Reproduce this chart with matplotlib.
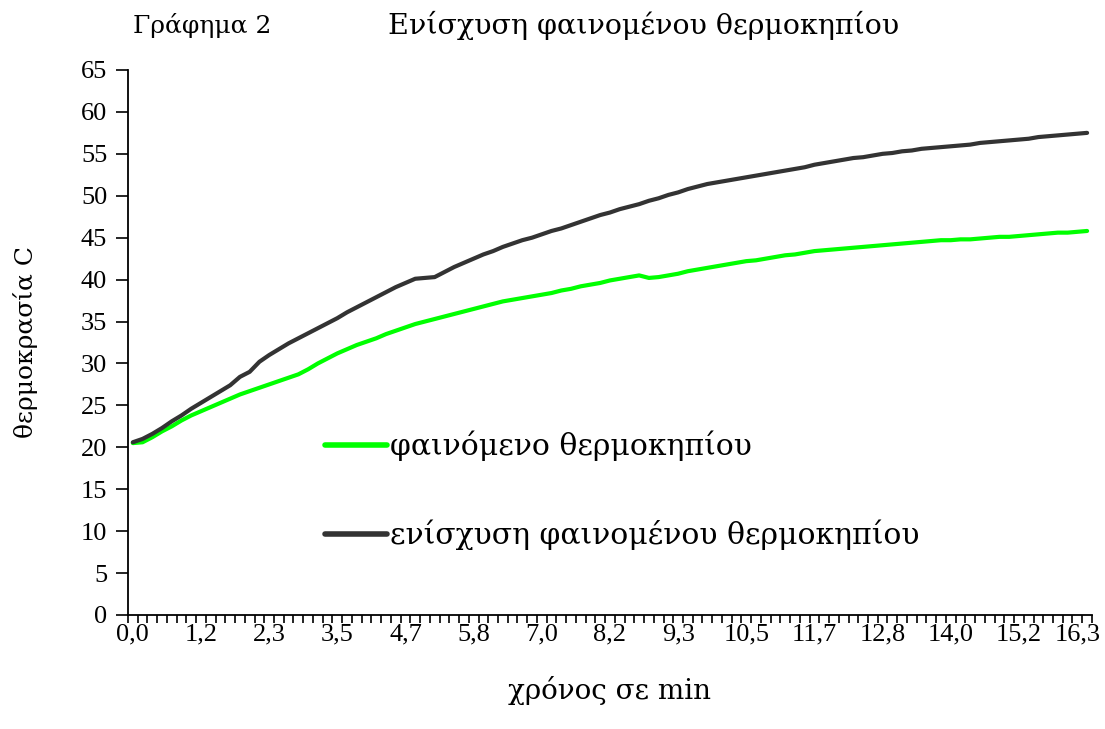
import numpy as np
import matplotlib
matplotlib.use("Agg")
import matplotlib.pyplot as plt
from matplotlib.ticker import FixedLocator, NullFormatter
from matplotlib.transforms import ScaledTranslation

plt.rcParams['font.family'] = ['Liberation Serif', 'DejaVu Serif']
GREEK = ['DejaVu Serif', 'Liberation Serif']

# temperature readings (every 10 s), deg C
greenhouse = [
    20.5, 20.6, 21.2, 21.9, 22.5, 23.2, 23.8, 24.3, 24.8, 25.3,
    25.8, 26.3, 26.7, 27.1, 27.5, 27.9, 28.3, 28.7, 29.3, 30.0,
    30.6, 31.2, 31.7, 32.2, 32.6, 33.0, 33.5, 33.9, 34.3, 34.7,
    35.0, 35.3, 35.6, 35.9, 36.2, 36.5, 36.8, 37.1, 37.4, 37.6,
    37.8, 38.0, 38.2, 38.4, 38.7, 38.9, 39.2, 39.4, 39.6, 39.9,
    40.1, 40.3, 40.5, 40.2, 40.3, 40.5, 40.7, 41.0, 41.2, 41.4,
    41.6, 41.8, 42.0, 42.2, 42.3, 42.5, 42.7, 42.9, 43.0, 43.2,
    43.4, 43.5, 43.6, 43.7, 43.8, 43.9, 44.0, 44.1, 44.2, 44.3,
    44.4, 44.5, 44.6, 44.7, 44.7, 44.8, 44.8, 44.9, 45.0, 45.1,
    45.1, 45.2, 45.3, 45.4, 45.5, 45.6, 45.6, 45.7, 45.8,
]
enhanced = [
    20.6, 21.0, 21.6, 22.3, 23.1, 23.8, 24.6, 25.3, 26.0, 26.7,
    27.4, 28.4, 29.0, 30.2, 31.0, 31.7, 32.4, 33.0, 33.6, 34.2,
    34.8, 35.4, 36.1, 36.7, 37.3, 37.9, 38.5, 39.1, 39.6, 40.1,
    40.2, 40.3, 40.9, 41.5, 42.0, 42.5, 43.0, 43.4, 43.9, 44.3,
    44.7, 45.0, 45.4, 45.8, 46.1, 46.5, 46.9, 47.3, 47.7, 48.0,
    48.4, 48.7, 49.0, 49.4, 49.7, 50.1, 50.4, 50.8, 51.1, 51.4,
    51.6, 51.8, 52.0, 52.2, 52.4, 52.6, 52.8, 53.0, 53.2, 53.4,
    53.7, 53.9, 54.1, 54.3, 54.5, 54.6, 54.8, 55.0, 55.1, 55.3,
    55.4, 55.6, 55.7, 55.8, 55.9, 56.0, 56.1, 56.3, 56.4, 56.5,
    56.6, 56.7, 56.8, 57.0, 57.1, 57.2, 57.3, 57.4, 57.5,
]
time_labels = ["0,0", "1,2", "2,3", "3,5", "4,7", "5,8", "7,0", "8,2",
               "9,3", "10,5", "11,7", "12,8", "14,0", "15,2", "16,3"]
label_step = 7

fig = plt.figure(figsize=(11.05, 7.29), dpi=100)
ax = fig.add_axes([0.1158, 0.1564, 0.8724, 0.7476])

x = np.arange(len(enhanced))
ax.plot(x, greenhouse, color='#00ff00', lw=3.0, solid_capstyle='round',
        label='φαινόμενο θερμοκηπίου')
ax.plot(x, enhanced, color='#333333', lw=3.0, solid_capstyle='round',
        label='ενίσχυση φαινομένου θερμοκηπίου')

ax.set_xlim(-0.5, len(enhanced) - 0.5)
ax.set_ylim(0, 65)
ax.set_yticks(np.arange(0, 66, 5))
ax.set_xticks(x[::label_step])
ax.set_xticklabels(time_labels)
ax.xaxis.set_minor_locator(FixedLocator(np.arange(-0.5, len(enhanced), 1.0)))
ax.xaxis.set_minor_formatter(NullFormatter())
ax.tick_params(axis='x', which='major', length=0, pad=6, labelsize=19)
ax.tick_params(axis='x', which='minor', length=6, width=1.2, direction='out')
ax.tick_params(axis='y', length=9, width=1.2, direction='out', pad=6, labelsize=19)

# keep the last time label inside the figure
last = ax.get_xticklabels()[-1]
last.set_transform(last.get_transform() + ScaledTranslation(-9 / 100, 0, fig.dpi_scale_trans))

for s in ['top', 'right']:
    ax.spines[s].set_visible(False)
for s in ['left', 'bottom']:
    ax.spines[s].set_linewidth(1.3)

ax.set_xlabel('χρόνος σε min', fontsize=20, family=GREEK, labelpad=22)
ax.set_ylabel('θερμοκρασία C', fontsize=18, family=GREEK, labelpad=31)

fig.text(0.120, 0.965, 'Γράφημα 2', fontsize=18, family=GREEK, va='center')
fig.text(0.351, 0.965, 'Ενίσχυση φαινομένου θερμοκηπίου', fontsize=20.5,
         family=GREEK, va='center')

leg = ax.legend(loc='upper left', bbox_to_anchor=(0.204, 0.338), frameon=False,
                prop={'family': GREEK, 'size': 21.5}, handlelength=2.1,
                handletextpad=0.1, labelspacing=1.95, borderpad=0, borderaxespad=0)
for line in leg.get_lines():
    line.set_linewidth(4.0)

fig.savefig('out.png', dpi=100)
